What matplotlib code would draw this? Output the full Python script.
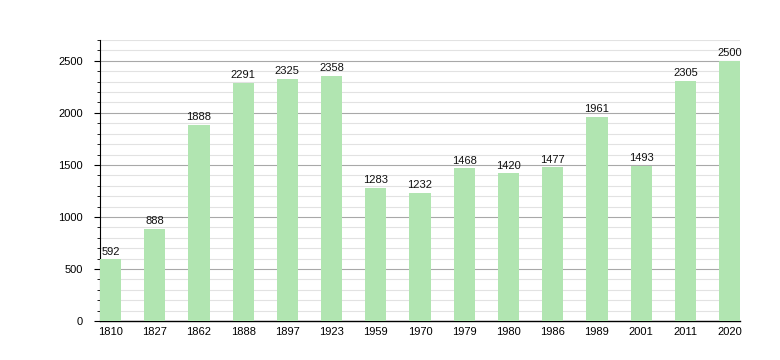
import matplotlib
matplotlib.use("Agg")
import matplotlib.pyplot as plt
from matplotlib.ticker import MultipleLocator

years = ["1810", "1827", "1862", "1888", "1897", "1923", "1959", "1970",
         "1979", "1980", "1986", "1989", "2001", "2011", "2020"]
population = [592, 888, 1888, 2291, 2325, 2358, 1283, 1232,
              1468, 1420, 1477, 1961, 1493, 2305, 2500]

plt.rcParams["font.family"] = ["Liberation Sans", "DejaVu Sans"]

fig = plt.figure(figsize=(7.8, 3.6), dpi=100)
ax = fig.add_axes([0.128, 0.108, 0.821, 0.781])

x = range(len(years))
ax.bar(x, population, width=0.48, color="#b1e5b1", zorder=3)
for xi, v in zip(x, population):
    ax.text(xi, v + 25, str(v), ha="center", va="bottom", fontsize=8,
            color="#111111", zorder=4)

ax.set_xlim(-0.24, len(years) - 0.76)
ax.set_ylim(0, 2700)
ax.set_xticks(list(x))
ax.set_xticklabels(years)
ax.yaxis.set_major_locator(MultipleLocator(500))
ax.yaxis.set_minor_locator(MultipleLocator(100))
ax.grid(axis="y", which="major", color="#a8a8a8", linewidth=0.8, zorder=1)
ax.grid(axis="y", which="minor", color="#e2e2e2", linewidth=0.8, zorder=0)

ax.tick_params(axis="x", length=0, labelsize=8, pad=4)
ax.tick_params(axis="y", which="major", length=4, labelsize=8, pad=8)
ax.tick_params(axis="y", which="minor", length=2)
for side in ["top", "right"]:
    ax.spines[side].set_visible(False)
ax.spines["left"].set_linewidth(0.8)
ax.spines["bottom"].set_linewidth(1.0)

fig.savefig("out.png", dpi=100)
